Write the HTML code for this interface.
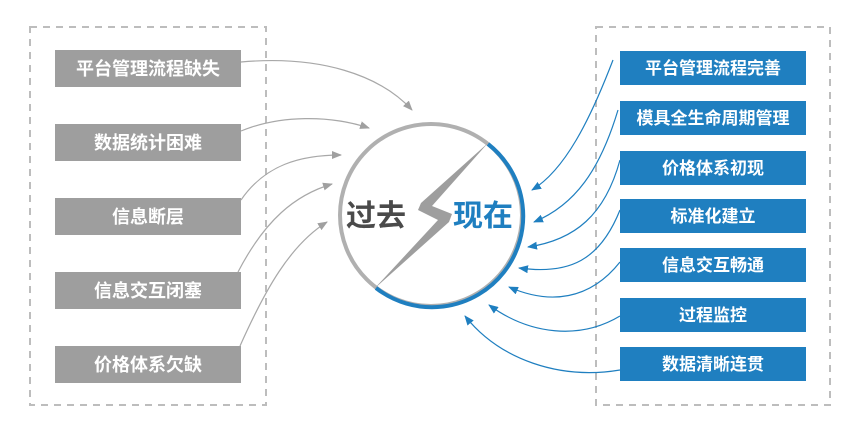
<!DOCTYPE html>
<html><head><meta charset="utf-8"><style>
html,body{margin:0;padding:0;background:#fff;width:865px;height:426px;overflow:hidden}
svg text{font-family:"Liberation Sans","Noto Sans CJK SC",sans-serif;font-weight:bold}
</style></head><body>
<svg width="865" height="426" viewBox="0 0 865 426">
<defs>
<marker id="ag" markerWidth="10" markerHeight="8" refX="9" refY="4" orient="auto" markerUnits="userSpaceOnUse"><path d="M0,0 L10,4 L0,8 Z" fill="#a0a0a0"/></marker>
<marker id="ab" markerWidth="10" markerHeight="8" refX="9" refY="4" orient="auto" markerUnits="userSpaceOnUse"><path d="M0,0 L10,4 L0,8 Z" fill="#1f7fc0"/></marker>
</defs>
<rect x="30" y="27" width="236" height="378" fill="none" stroke="#bdbdbd" stroke-width="2" stroke-dasharray="7,6"/>
<rect x="596" y="27" width="234" height="378" fill="none" stroke="#bdbdbd" stroke-width="2" stroke-dasharray="7,6"/>
<g fill="#9e9e9e">
<rect x="55" y="50" width="186" height="37"/><rect x="55" y="124" width="186" height="37"/><rect x="55" y="198" width="186" height="37"/><rect x="55" y="272" width="186" height="37"/><rect x="55" y="346" width="186" height="37"/>
</g>
<g fill="#fff" font-size="18" text-anchor="middle">
<text x="148" y="75">平台管理流程缺失</text><text x="148" y="149">数据统计困难</text><text x="148" y="223">信息断层</text><text x="148" y="297">信息交互闭塞</text><text x="148" y="371">价格体系欠缺</text>
</g>
<g fill="#1f7fc0">
<rect x="620" y="51" width="186" height="34"/><rect x="620" y="101" width="186" height="34"/><rect x="620" y="151" width="186" height="34"/><rect x="620" y="199" width="186" height="34"/><rect x="620" y="248" width="186" height="34"/><rect x="620" y="298" width="186" height="34"/><rect x="620" y="347" width="186" height="34"/>
</g>
<g fill="#fff" font-size="17" text-anchor="middle">
<text x="713" y="74">平台管理流程完善</text><text x="713" y="124">模具全生命周期管理</text><text x="713" y="174">价格体系初现</text><text x="713" y="222">标准化建立</text><text x="713" y="271">信息交互畅通</text><text x="713" y="321">过程监控</text><text x="713" y="370">数据清晰连贯</text>
</g>
<g fill="none" stroke="#a8a8a8" stroke-width="1.2">
<path d="M241,62 C320,55 380,75 412,110" marker-end="url(#ag)"/>
<path d="M241,131 C280,115 330,115 369,128" marker-end="url(#ag)"/>
<path d="M241,200 C265,165 300,155 341,155" marker-end="url(#ag)"/>
<path d="M238,272 C265,220 295,195 332,184" marker-end="url(#ag)"/>
<path d="M240,346 C265,290 290,245 327,222" marker-end="url(#ag)"/>
</g>
<g fill="none" stroke="#1f7fc0" stroke-width="1.2">
<path d="M613,60 C590,120 565,170 532,190" marker-end="url(#ab)"/>
<path d="M618,110 C600,170 575,205 534,222" marker-end="url(#ab)"/>
<path d="M620,160 C605,215 575,240 528,247" marker-end="url(#ab)"/>
<path d="M620,210 C600,260 570,275 519,268" marker-end="url(#ab)"/>
<path d="M620,262 C590,300 550,305 509,287" marker-end="url(#ab)"/>
<path d="M620,316 C580,340 530,335 489,305" marker-end="url(#ab)"/>
<path d="M620,370 C560,380 500,360 465,316" marker-end="url(#ab)"/>
</g>
<circle cx="431" cy="215" r="91" fill="#fff" stroke="#b0b0b0" stroke-width="4"/>
<path d="M488,144 A91,91 0 0 1 376,288" fill="none" stroke="#1f7fc0" stroke-width="4"/>
<polygon points="488,143 421,203 418,210 438,220 374,289 449,222 452,214 432,206" fill="#9e9e9e"/>
<text x="346" y="226" font-size="30" fill="#4a4a4a">过去</text>
<text x="453" y="226" font-size="30" fill="#1f7fc0">现在</text>
</svg>
</body></html>
